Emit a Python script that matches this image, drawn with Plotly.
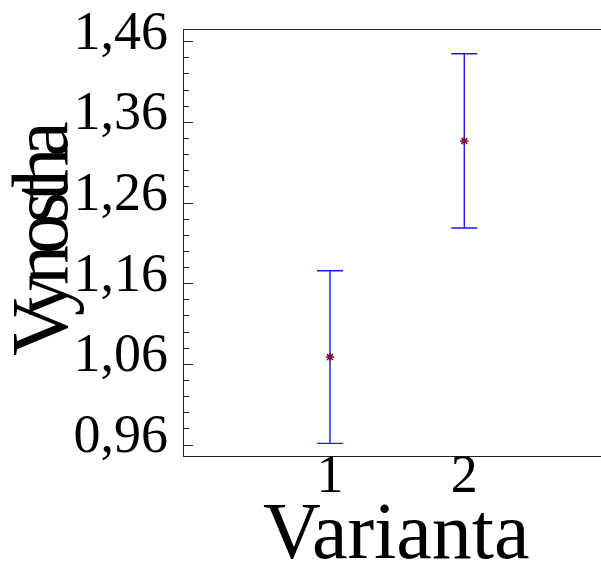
import plotly.graph_objects as go

# Mean yield per variant with its error half-width
varianta = [1, 2]
vynos = [1.069, 1.337]
chyba = [0.107, 0.108]

y_ticks = [0.96, 1.06, 1.16, 1.26, 1.36, 1.46]
x_ticks = [1, 2]
x_labels = ["1", "2"]

serif = "Liberation Serif, Times New Roman, serif"

fig = go.Figure(
    go.Scatter(
        x=varianta,
        y=vynos,
        mode="markers",
        marker=dict(symbol="asterisk-open", size=7, color="#7a0a3c",
                    line=dict(color="#7a0a3c", width=1.5)),
        error_y=dict(type="data", array=chyba, visible=True,
                     color="#1a1aff", thickness=1.4, width=13),
        showlegend=False,
    )
)

fig.update_layout(
    width=601,
    height=565,
    margin=dict(l=184, r=0, t=30, b=109),
    paper_bgcolor="white",
    plot_bgcolor="white",
    separators=", ",
    font=dict(family=serif, color="black"),
    xaxis=dict(
        range=[-0.087, 3.018],
        automargin=False,
        tickvals=x_ticks,
        ticktext=x_labels,
        ticks="",
        showgrid=False,
        zeroline=False,
        showline=True,
        mirror=True,
        linecolor="#222222",
        linewidth=1.4,
        ticklabelstandoff=-30,
        tickfont=dict(family=serif, size=54, color="black"),
    ),
    yaxis=dict(
        range=[0.9464, 1.4745],
        automargin=False,
        tickvals=y_ticks,
        tickformat=".2f",
        ticks="inside",
        ticklen=9,
        tickwidth=1.2,
        tickcolor="#222222",
        minor=dict(dtick=0.02, tick0=0.96, ticks="inside", ticklen=5,
                   tickwidth=1, tickcolor="#222222", showgrid=False),
        showgrid=False,
        zeroline=False,
        showline=True,
        mirror=False,
        linecolor="#222222",
        linewidth=1.4,
        ticklabelstandoff=4,
        ticklabelshift=-12,
        tickfont=dict(family=serif, size=54, color="black"),
        title=dict(text="Vynostha", font=dict(family=serif, size=80, color="black")),
    ),
    annotations=[
        dict(text="Varianta", xref="paper", yref="paper",
             x=0.51, y=-0.285, xanchor="center", yanchor="bottom",
             showarrow=False,
             font=dict(family=serif, size=80, color="black")),
    ],
)

# Tight letter spacing on the vertical axis title, nudged slightly left
post = """
var t = document.querySelector('.ytitle');
if (t) {
  t.style.letterSpacing = '-9px';
  var x = parseFloat(t.getAttribute('x')) - 4;
  var y = parseFloat(t.getAttribute('y'));
  t.setAttribute('x', x);
  t.setAttribute('transform', 'rotate(-90,' + x + ',' + y + ')');
}
"""

fig.write_html("out.html", post_script=post)
